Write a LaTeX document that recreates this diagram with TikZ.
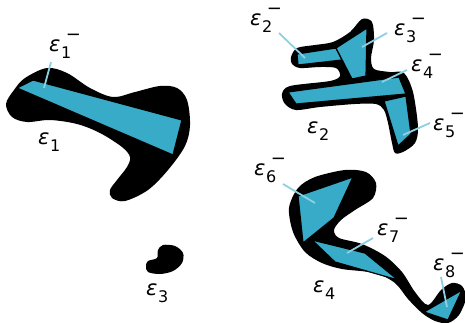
\documentclass[tikz,border=0pt]{standalone}
\usepackage{fontspec}
\setmainfont{DejaVu Sans}
\definecolor{piece}{RGB}{56,171,200}
\definecolor{leader}{RGB}{140,208,226}
\newcommand\epsbase[1]{{\fontsize{21}{24}\selectfont\itshape ε}\kern0.6pt\raisebox{-7.5pt}{\fontsize{16}{18}\selectfont #1}}
\newcommand\epsneg[1]{\epsbase{#1}\kern-5.5pt\rlap{\raisebox{11pt}{\fontsize{18}{20}\selectfont −}}}
\tikzset{
  blob/.style={fill=black},
  piecebox/.style={fill=piece, draw=black, line width=1.2pt, line join=miter},
  lab/.style={inner sep=0pt, anchor=base west},
  lead/.style={draw=leader, line width=1.8pt}
}
\begin{document}
\begin{tikzpicture}[x=1pt,y=-1pt]
\useasboundingbox (0,0) rectangle (465,322);
% blob 1
\fill[blob] plot[smooth cycle, tension=0.55] coordinates {(6,104) (14,90) (25,78) (47,68) (67,73) (90,88) (113,97) (135,92) (160,86) (177,88) (187,100) (190,125) (185,146) (168,170) (148,190) (125,201) (112,198) (110,190) (117,180) (127,167) (130,157) (122,147) (100,133) (77,124) (50,120) (27,122) (12,117)};
\filldraw[piecebox] (17,88) -- (33,80) -- (182,120) -- (173,155) -- cycle;
% blob 2
\fill[blob] plot[smooth cycle, tension=0.5] coordinates {(291,57) (297,48) (315,45) (333,42) (350,32) (362,19) (372,22) (374,40) (371,58) (374,69) (390,72) (404,73) (413,92) (418,127) (415,143) (403,152) (395,153) (392,143) (388,123) (384,110) (376,104) (355,104) (320,107) (296,110) (285,104) (282,94) (290,86) (330,81) (340,76) (336,68) (320,67) (300,68) (292,64)};
\filldraw[piecebox] (297,54) -- (336,48) -- (342,60) -- (298,65) -- cycle;
\filldraw[piecebox] (336,48) -- (367,28) -- (366,76) -- (352,79) -- cycle;
\filldraw[piecebox] (288,92) -- (399,77) -- (406,94) -- (296,104) -- cycle;
\filldraw[piecebox] (384,101) -- (406,96) -- (411,134) -- (398,146) -- cycle;
% blob 3
\fill[blob] plot[smooth cycle, tension=0.55] coordinates {(158,250) (163,245) (175,246) (183,253) (182,263) (173,271) (160,274) (148,272) (146,266) (148,261) (157,258)};
% blob 4
\fill[blob] plot[smooth cycle, tension=0.5] coordinates {(298,188) (315,177) (345,170) (366,172) (376,183) (373,198) (355,210) (341,220) (334,230) (339,238) (362,244) (385,256) (402,272) (415,292) (428,305) (441,290) (452,283) (462,286) (466,298) (459,315) (448,323) (435,321) (422,313) (408,299) (395,283) (375,273) (342,269) (322,263) (305,252) (293,232) (289,208)};
\filldraw[piecebox] (298,196) -- (353,177) -- (334,218) -- (303,243) -- cycle;
\filldraw[piecebox] (312,240) -- (365,253) -- (398,280) -- (335,262) -- cycle;
\filldraw[piecebox] (424,312) -- (462,290) -- (448,320) -- cycle;
% labels
\node[lab] (e1m) at (49,51) {\epsneg{1}};
\node[lab] (e1) at (38,144) {\epsbase{1}};
\node[lab] (e2m) at (250,25) {\epsneg{2}};
\node[lab] (e3m) at (394,35) {\epsneg{3}};
\node[lab] (e4m) at (411,71) {\epsneg{4}};
\node[lab] (e5m) at (433,130) {\epsneg{5}};
\node[lab] (e2) at (307,133) {\epsbase{2}};
\node[lab] (e6m) at (254,175) {\epsneg{6}};
\node[lab] (e7m) at (377,235) {\epsneg{7}};
\node[lab] (e8m) at (433,270) {\epsneg{8}};
\node[lab] (e4) at (313,292) {\epsbase{4}};
\node[lab] (e3) at (146,295) {\epsbase{3}};
% leader ends
\coordinate (a1) at (51,62); \coordinate (b1) at (44,88);
\coordinate (a2) at (279,33); \coordinate (b2) at (305,58);
\coordinate (a3) at (387,33); \coordinate (b3) at (362,47);
\coordinate (a4) at (407,70); \coordinate (b4) at (382,82);
\coordinate (a5) at (430,123); \coordinate (b5) at (403,135);
\coordinate (a6) at (283,184); \coordinate (b6) at (315,203);
\coordinate (a7) at (373,238); \coordinate (b7) at (347,253);
\coordinate (a8) at (441,277); \coordinate (b8) at (447,307);
\foreach \i in {1,...,8} {\draw[lead] (a\i) -- (b\i);}
\end{tikzpicture}
\end{document}
